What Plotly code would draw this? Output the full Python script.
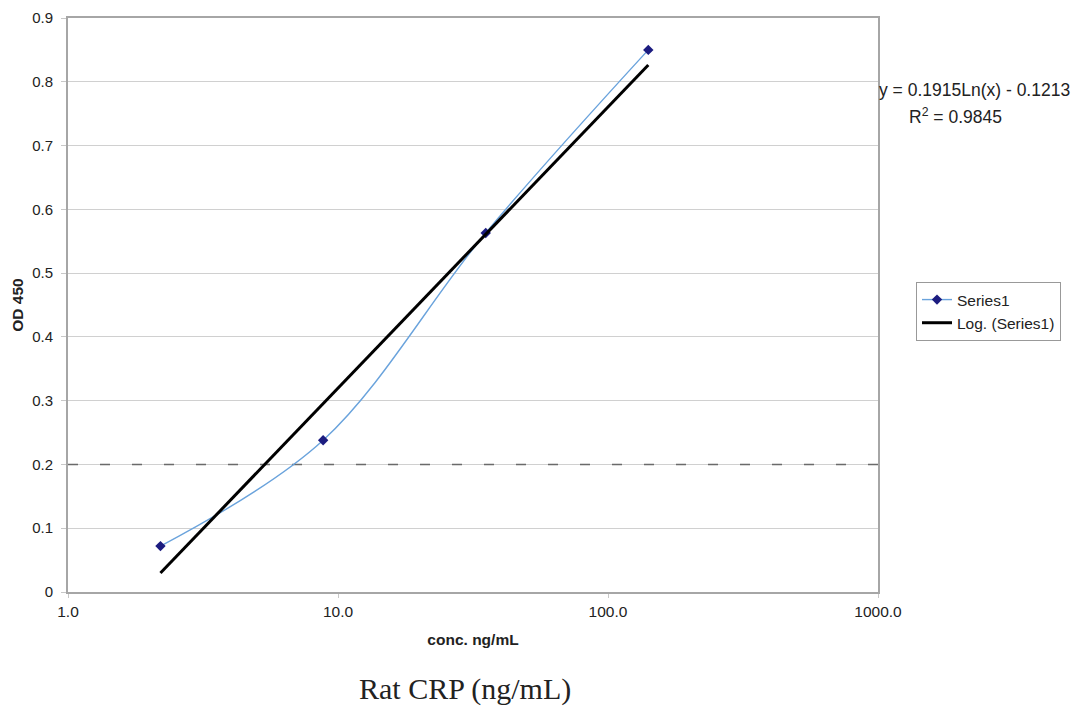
import numpy as np
import plotly.graph_objects as go

# Data
conc = [2.20, 8.81, 35.25, 141.0]
od450 = [0.072, 0.238, 0.563, 0.850]
fit_a = 0.1915
fit_b = -0.1213
r2 = 0.9845
cutoff = 0.2

xtick_vals = [1, 10, 100, 1000]
xtick_text = ["1.0", "10.0", "100.0", "1000.0"]
ytick_vals = [0, 0.1, 0.2, 0.3, 0.4, 0.5, 0.6, 0.7, 0.8, 0.9]
ytick_text = ["0", "0.1", "0.2", "0.3", "0.4", "0.5", "0.6", "0.7", "0.8", "0.9"]

# Logarithmic trendline over data range
xt = np.logspace(np.log10(min(conc)), np.log10(max(conc)), 50)
yt = fit_a * np.log(xt) + fit_b

W, H = 1073, 706
L, R, T, B = 68, 195, 18, 114

fig = go.Figure()
fig.add_trace(go.Scatter(
    x=[1, 1000], y=[cutoff, cutoff], mode="lines",
    line=dict(color="#6a6a6a", width=1.6, dash="10px,22px"),
    showlegend=False, hoverinfo="skip"))
fig.add_trace(go.Scatter(
    x=conc, y=od450, mode="lines+markers", name="Series1",
    line=dict(color="#6aa3dc", width=1.4, shape="spline"),
    marker=dict(symbol="diamond", size=8, color="#1c1c80")))
fig.add_trace(go.Scatter(
    x=xt, y=yt, mode="lines", name="Log. (Series1)",
    line=dict(color="#000000", width=3)))

pw, ph = W - L - R, H - T - B


def px(x):
    return (x - L) / pw


def py(y):
    return (H - B - y) / ph


fig.update_layout(
    width=W, height=H,
    margin=dict(l=L, r=R, t=T, b=B, autoexpand=False),
    paper_bgcolor="white", plot_bgcolor="white",
    font=dict(family="Liberation Sans, Arial", size=15, color="#222222"),
    legend=dict(x=px(916), y=py(282), xanchor="left", yanchor="top",
                bordercolor="#999999", borderwidth=1,
                font=dict(size=15.5, color="#222222"),
                itemwidth=30, tracegroupgap=0),
    annotations=[
        dict(text="y = 0.1915Ln(x) - 0.1213", x=px(1072), y=py(90), xref="paper", yref="paper",
             showarrow=False, xanchor="right", yanchor="middle",
             font=dict(size=17.5, color="#222222")),
        dict(text="R<sup>2</sup> = 0.9845", x=px(955), y=py(116), xref="paper", yref="paper",
             showarrow=False, xanchor="center", yanchor="middle",
             font=dict(size=17.5, color="#222222")),
        dict(text="Rat CRP (ng/mL)", x=px(465), y=py(689), xref="paper", yref="paper",
             showarrow=False, xanchor="center", yanchor="middle",
             font=dict(family="Liberation Serif, Times New Roman", size=30, color="#222222")),
    ],
)

fig.update_xaxes(
    type="log", range=[0, 3],
    tickvals=xtick_vals, ticktext=xtick_text,
    showgrid=False, showline=True, mirror=True, linecolor="#a6a6a6", linewidth=2,
    ticks="outside", ticklen=4, tickcolor="#c8c8c8",
    tickfont=dict(size=15.5, color="#222222"),
    title=dict(text="<b>conc. ng/mL</b>", font=dict(size=15.5, color="#222222"), standoff=16),
    zeroline=False)
fig.update_yaxes(
    range=[0, 0.9],
    tickvals=ytick_vals, ticktext=ytick_text,
    showgrid=True, gridcolor="#d0d0d0", gridwidth=1.2,
    showline=True, mirror=True, linecolor="#a6a6a6", linewidth=2,
    ticks="outside", ticklen=5, tickcolor="#c8c8c8",
    tickfont=dict(size=15, color="#222222"),
    ticklabelstandoff=5,
    title=dict(text="<b>OD 450</b>", font=dict(size=15.5, color="#222222"), standoff=5),
    zeroline=False)

fig.write_html("out.html", config={"displayModeBar": False},
               post_script="document.body.style.margin='0px';document.body.style.overflow='hidden';")
